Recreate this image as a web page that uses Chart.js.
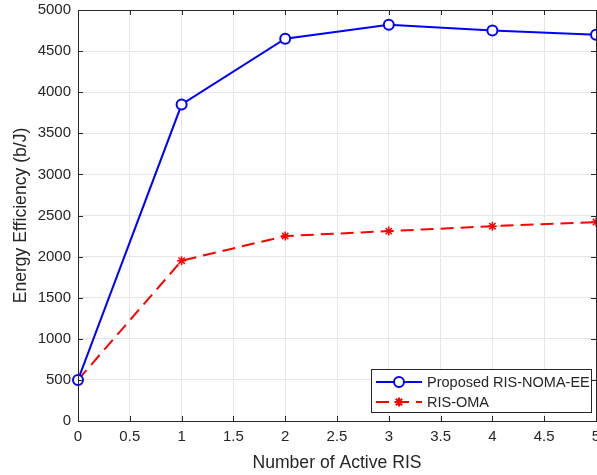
<!DOCTYPE html>
<html>
<head>
<meta charset="utf-8">
<script src="https://cdn.jsdelivr.net/npm/chart.js@4"></script>
<style>
  html, body { margin: 0; padding: 0; background: #fff; }
  #wrap { width: 597px; height: 475px; overflow: hidden; }
</style>
</head>
<body>
<div id="wrap"><canvas id="ee" width="640" height="475"></canvas></div>
<script>
Chart.defaults.font.family = '"Liberation Sans", Arial, sans-serif';
Chart.defaults.color = '#262626';

const activeRis = [0, 1, 2, 3, 4, 5];
const proposedEE = [500, 3850, 4650, 4820, 4750, 4700];
const omaEE = [500, 1950, 2250, 2310, 2370, 2420];
const seriesNames = ['Proposed RIS-NOMA-EE', 'RIS-OMA'];

const axisColor = '#262626';
const gridColor = '#e6e6e6';

// matlab style box with inward ticks on all four sides
const boxTicks = {
    id: 'boxTicks',
    afterDatasetsDraw(chart) {
        const { ctx, chartArea: a, scales } = chart;
        const len = 5;
        ctx.save();
        ctx.strokeStyle = axisColor;
        ctx.lineWidth = 1;
        ctx.beginPath();
        ctx.rect(a.left + 0.5, a.top + 0.5, a.right - a.left, a.bottom - a.top);
        scales.x.ticks.forEach(t => {
            const px = Math.round(scales.x.getPixelForValue(t.value)) + 0.5;
            ctx.moveTo(px, a.bottom); ctx.lineTo(px, a.bottom - len);
            ctx.moveTo(px, a.top); ctx.lineTo(px, a.top + len);
        });
        scales.y.ticks.forEach(t => {
            const py = Math.round(scales.y.getPixelForValue(t.value)) + 0.5;
            ctx.moveTo(a.left, py); ctx.lineTo(a.left + len, py);
            ctx.moveTo(a.right, py); ctx.lineTo(a.right - len, py);
        });
        ctx.stroke();
        ctx.restore();
    }
};

// legend box in the lower right corner of the axes
const insideLegend = {
    id: 'insideLegend',
    afterDraw(chart) {
        const { ctx, chartArea: a } = chart;
        const w = 220, h = 43;
        const x0 = a.right - 5 - w, y0 = a.bottom - 9 - h;
        ctx.save();
        ctx.fillStyle = '#fff';
        ctx.fillRect(x0, y0, w, h);
        ctx.strokeStyle = axisColor;
        ctx.lineWidth = 1;
        ctx.strokeRect(x0 + 0.5, y0 + 0.5, w, h);
        chart.data.datasets.forEach((ds, i) => {
            const y = y0 + 13 + i * 20;
            ctx.strokeStyle = ds.borderColor;
            ctx.lineWidth = ds.borderWidth;
            ctx.setLineDash(ds.borderDash || []);
            ctx.beginPath();
            ctx.moveTo(x0 + 5, y);
            ctx.lineTo(x0 + 51, y);
            ctx.stroke();
            ctx.setLineDash([]);
            Chart.helpers.drawPoint(ctx, {
                pointStyle: ds.pointStyle,
                radius: ds.pointRadius,
                borderWidth: ds.pointBorderWidth
            }, x0 + 28, y);
            ctx.fillStyle = axisColor;
            ctx.font = '14.5px "Liberation Sans", Arial, sans-serif';
            ctx.textBaseline = 'middle';
            ctx.fillText(ds.label, x0 + 56, y + 1);
        });
        ctx.restore();
    }
};

new Chart(document.getElementById('ee'), {
    type: 'line',
    data: {
        datasets: [{
            label: seriesNames[0],
            data: activeRis.map((x, i) => ({ x: x, y: proposedEE[i] })),
            borderColor: '#0000ff',
            backgroundColor: '#ffffff',
            borderWidth: 2,
            pointStyle: 'circle',
            pointRadius: 5,
            pointBorderWidth: 2,
            pointBackgroundColor: '#ffffff',
            pointBorderColor: '#0000ff',
            clip: false
        }, {
            label: seriesNames[1],
            data: activeRis.map((x, i) => ({ x: x, y: omaEE[i] })),
            borderColor: '#ff0000',
            backgroundColor: '#ff0000',
            borderWidth: 2,
            borderDash: [13, 7],
            pointStyle: 'star',
            pointRadius: 4.5,
            pointBorderWidth: 1.5,
            pointBorderColor: '#ff0000',
            clip: false
        }]
    },
    options: {
        responsive: false,
        animation: false,
        layout: { padding: { top: 10, right: 44, bottom: 0, left: 0 } },
        plugins: { legend: { display: false }, tooltip: { enabled: false } },
        elements: { line: { tension: 0 } },
        scales: {
            x: {
                type: 'linear',
                min: 0,
                max: 5,
                afterFit: s => { s.height = 54; },
                ticks: {
                    stepSize: 0.5,
                    padding: 7,
                    maxRotation: 0,
                    font: { size: 15 },
                    callback: v => String(v)
                },
                grid: { color: gridColor, drawTicks: false },
                border: { color: axisColor, width: 1 },
                title: {
                    display: true,
                    text: 'Number of Active RIS',
                    font: { size: 17.6 },
                    padding: { top: 0, bottom: 1 }
                }
            },
            y: {
                min: 0,
                max: 5000,
                afterFit: s => {
                    s.width = 78;
                    s.paddingTop = 0;
                    s.paddingBottom = 0;
                },
                ticks: {
                    stepSize: 500,
                    padding: 7,
                    font: { size: 15 },
                    callback: v => String(v)
                },
                grid: { color: gridColor, drawTicks: false },
                border: { color: axisColor, width: 1 },
                title: {
                    display: true,
                    text: 'Energy Efficiency (b/J)',
                    font: { size: 17.6 },
                    padding: { top: 11, bottom: 0 }
                }
            }
        }
    },
    plugins: [boxTicks, insideLegend]
});
</script>
</body>
</html>
